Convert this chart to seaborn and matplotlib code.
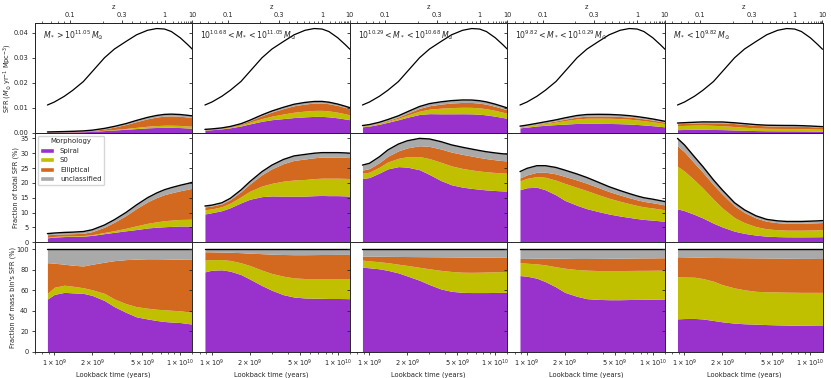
import numpy as np
import matplotlib
matplotlib.use("Agg")
import matplotlib.pyplot as plt
from matplotlib.patches import Patch
from matplotlib.ticker import FixedLocator, NullFormatter, LogLocator
import seaborn as sns

# ---- data ----
# lookback time grid (Gyr)
lookback_gyr = [0.88, 1.0, 1.2, 1.4, 1.7, 2.0, 2.5, 3.0, 3.7, 4.5, 5.5, 6.5, 7.5, 8.5, 10.0, 11.5, 12.5]

# total SFR density of all galaxies (Msun / yr / Mpc^3)
cosmic_sfr = [0.0111, 0.0123, 0.0146, 0.0170, 0.0205, 0.0245, 0.0300, 0.0335, 0.0365,
              0.0392, 0.0410, 0.0417, 0.0415, 0.0405, 0.0380, 0.0352, 0.0334]

bin_labels = [r"$M_* > 10^{11.05}\,M_{\odot}$",
              r"$10^{10.68} < M_* < 10^{11.05}\,M_{\odot}$",
              r"$10^{10.29} < M_* < 10^{10.68}\,M_{\odot}$",
              r"$10^{9.82} < M_* < 10^{10.29}\,M_{\odot}$",
              r"$M_* < 10^{9.82}\,M_{\odot}$"]

# share of the total SFR in each mass bin (%)
bin_share = [
    [2.9, 3.1, 3.3, 3.4, 3.6, 4.2, 5.8, 7.6, 10.0, 12.6, 15.0, 16.6, 17.7, 18.4, 19.2, 19.8, 20.2],
    [12.2, 12.5, 13.3, 14.8, 17.6, 20.4, 23.8, 26.0, 27.9, 29.1, 29.6, 30.0, 30.2, 30.2, 30.2, 30.1, 30.0],
    [26.0, 26.6, 28.8, 31.1, 33.1, 34.2, 35.0, 34.8, 33.9, 32.8, 32.0, 31.4, 30.9, 30.5, 30.1, 29.8, 29.7],
    [23.8, 24.9, 25.8, 25.8, 25.2, 24.3, 23.0, 21.8, 20.2, 18.7, 17.4, 16.4, 15.6, 15.0, 14.5, 14.0, 13.7],
    [35.0, 32.8, 28.8, 25.5, 21.0, 17.6, 13.3, 10.9, 8.9, 7.7, 7.2, 7.0, 7.0, 7.0, 7.1, 7.2, 7.3],
]

# cumulative fraction of each bin's SFR (%): up to spiral, up to S0, up to elliptical
spiral_cum = [
    [51.5, 56, 58, 57.5, 57, 55, 50, 44, 38.5, 34, 32, 30.5, 29.5, 29, 28.5, 27.5, 27],
    [78, 79.7, 80, 78.7, 75.4, 71, 64.6, 60, 55.7, 53.4, 52.5, 52.3, 52.2, 52, 52, 51.9, 51.8],
    [82.6, 82, 81, 79.5, 77, 74, 69.8, 65.6, 61.3, 59, 58, 57.8, 57.8, 57.8, 57.9, 58, 58],
    [74.4, 73.8, 71.8, 68.5, 63.3, 58, 54.1, 51.8, 51.1, 50.8, 50.8, 51, 51.1, 51.2, 51.3, 51.4, 51.5],
    [32.1, 32.4, 32.5, 32, 30.5, 29.2, 27.9, 27.3, 26.9, 26.5, 26.2, 26, 25.9, 25.8, 25.7, 25.6, 25.6],
]
s0_cum = [
    [57, 63, 65, 64, 62.5, 60.5, 57, 51.5, 47, 44, 42.5, 41.5, 41, 40.5, 40, 39, 38.5],
    [89.5, 90, 90, 89.2, 86.9, 84.3, 79.7, 76.4, 73.8, 72.1, 71.5, 71.5, 71.5, 71.5, 71.5, 71.5, 71.5],
    [89.5, 88.8, 87.9, 87, 85.5, 84.3, 82.5, 81, 79.5, 78.4, 77.7, 77.6, 77.7, 77.9, 78.1, 78.3, 78.4],
    [86.9, 86.5, 85.8, 84.9, 83, 81.6, 80.3, 79.7, 79.3, 79.3, 79.3, 79.4, 79.5, 79.5, 79.6, 79.7, 79.7],
    [73.1, 73, 72.8, 71.5, 68.9, 65.5, 62.3, 60.5, 59, 58.6, 58.4, 58.2, 58.1, 58, 58, 58, 58],
]
ell_cum = [
    [87, 86.5, 85.5, 84.5, 83.8, 85.5, 87.5, 89, 90, 90.5, 90.8, 90.8, 90.7, 90.5, 90.4, 90.3, 90.2],
    [97.7, 97.6, 97.4, 97.2, 96.8, 96.3, 95.8, 95.3, 95, 94.8, 94.8, 94.9, 95, 95, 95.1, 95.1, 95.1],
    [93.5, 93.4, 93.3, 93.2, 93.1, 93.0, 92.9, 92.8, 92.7, 92.6, 92.5, 92.5, 92.4, 92.4, 92.3, 92.3, 92.2],
    [91.1, 91.2, 91.4, 91.5, 91.4, 91.3, 91.1, 91.1, 91.2, 91.3, 91.4, 91.5, 91.6, 91.7, 91.7, 91.8, 91.8],
    [92.8, 92.7, 92.5, 92.3, 92.1, 92.0, 91.9, 91.8, 91.7, 91.6, 91.5, 91.4, 91.3, 91.2, 91.2, 91.1, 91.1],
]

morph_names = ["Spiral", "S0", "Elliptical", "unclassified"]
morph_colors = ["#9932CC", "#C0C000", "#D2691E", "#A9A9A9"]

# redshift axis calibration (lookback time at given z)
z_ref = [0.01, 0.1, 0.3, 1.0, 10.0]
z_ref_lookback = [1.35e8, 1.33e9, 3.43e9, 7.5e9, 1.245e10]
z_major = [0.1, 0.3, 1, 10]
z_minor = [0.06, 0.07, 0.08, 0.09, 0.2, 0.4, 0.5, 0.6, 0.7, 0.8, 0.9, 2, 3, 4, 5, 6, 7, 8, 9]

XLIM = (7e8, 1.25e10)
FS = 4.8


def z_to_lookback(z):
    return 10 ** np.interp(np.log10(z), np.log10(z_ref), np.log10(z_ref_lookback))


def draw_stack(ax, t, layers, top):
    ax.stackplot(t, *layers, colors=morph_colors, linewidth=0)
    sns.lineplot(x=t, y=top, color="black", lw=1.0, ax=ax)


sns.set_style("ticks")
plt.rcParams.update({
    "font.family": ["DejaVu Sans"],
    "font.size": FS,
    "axes.linewidth": 0.7,
    "xtick.major.size": 2.5, "ytick.major.size": 2.5,
    "xtick.minor.size": 1.5, "ytick.minor.size": 1.5,
    "xtick.major.width": 0.6, "ytick.major.width": 0.6,
    "xtick.minor.width": 0.5,
    "xtick.major.pad": 2, "ytick.major.pad": 2,
})

t = np.array(lookback_gyr) * 1e9
cosmic = np.array(cosmic_sfr)

fig, axes = plt.subplots(3, 5, figsize=(8.31, 3.78), dpi=100, sharex=True, sharey="row")
fig.subplots_adjust(left=0.042, right=0.9898, top=0.9384, bottom=0.0696, wspace=0, hspace=0)

for i in range(5):
    share = np.array(bin_share[i])
    cum = np.vstack([np.zeros_like(t), spiral_cum[i], s0_cum[i], ell_cum[i], np.full_like(t, 100.0)])
    frac = np.diff(cum, axis=0)  # % of bin SFR per morphology

    # top: SFR density
    ax = axes[0, i]
    sfr_bin = cosmic * share / 100
    draw_stack(ax, t, sfr_bin * frac / 100, sfr_bin)
    sns.lineplot(x=t, y=cosmic, color="black", lw=0.9, ax=ax)
    ax.text(0.05, 0.955, bin_labels[i], transform=ax.transAxes, ha="left", va="top", fontsize=5.6)

    # middle: fraction of total SFR
    ax = axes[1, i]
    draw_stack(ax, t, share * frac / 100, share)

    # bottom: fraction of the mass bin's SFR
    ax = axes[2, i]
    draw_stack(ax, t, frac, frac.sum(axis=0))
    ax.set_xlabel("Lookback time (years)", fontsize=FS, labelpad=1.5)

    # redshift axis on top
    ax2 = axes[0, i].twiny()
    ax2.set_xscale("log")
    ax2.set_xlim(XLIM)
    ax2.xaxis.set_major_locator(FixedLocator(z_to_lookback(np.array(z_major))))
    ax2.xaxis.set_minor_locator(FixedLocator(z_to_lookback(np.array(z_minor))))
    ax2.set_xticklabels([str(z) for z in z_major])
    ax2.xaxis.set_minor_formatter(NullFormatter())
    ax2.tick_params(axis="x", labelsize=FS, pad=1.5)
    ax2.set_xlabel("z", fontsize=FS, labelpad=2)

for ax in axes.flat:
    ax.set_xscale("log")
    ax.set_xlim(XLIM)
    ax.tick_params(labelsize=FS)

axes[2, 0].xaxis.set_major_locator(FixedLocator([1e9, 2e9, 5e9, 1e10]))
axes[2, 0].xaxis.set_minor_locator(LogLocator(subs=np.arange(2, 10)))
axes[2, 0].xaxis.set_minor_formatter(NullFormatter())
axes[2, 0].set_xticklabels([r"$1\times10^{9}$", r"$2\times10^{9}$", r"$5\times10^{9}$", r"$1\times10^{10}$"])

axes[0, 0].set_ylim(0, 0.0438)
axes[0, 0].set_yticks([0.0, 0.01, 0.02, 0.03, 0.04])
axes[0, 0].set_yticklabels(["0.00", "0.01", "0.02", "0.03", "0.04"])
axes[1, 0].set_ylim(0, 36.9)
axes[1, 0].set_yticks(range(0, 40, 5))
axes[2, 0].set_ylim(0, 107)
axes[2, 0].set_yticks(range(0, 101, 20))

axes[0, 0].set_ylabel(r"SFR ($M_{\odot}$ yr$^{-1}$ Mpc$^{-3}$)", fontsize=FS, labelpad=0)
axes[1, 0].set_ylabel("Fraction of total SFR (%)", fontsize=FS, labelpad=1)
axes[2, 0].set_ylabel("Fraction of mass bin's SFR (%)", fontsize=FS, labelpad=0)

handles = [Patch(facecolor=c, label=n) for n, c in zip(morph_names, morph_colors)]
axes[1, 0].legend(handles=handles, title="Morphology", loc="upper left", fontsize=5.0,
                  title_fontsize=5.0, borderaxespad=0.4)

fig.savefig("out.png", dpi=100)
